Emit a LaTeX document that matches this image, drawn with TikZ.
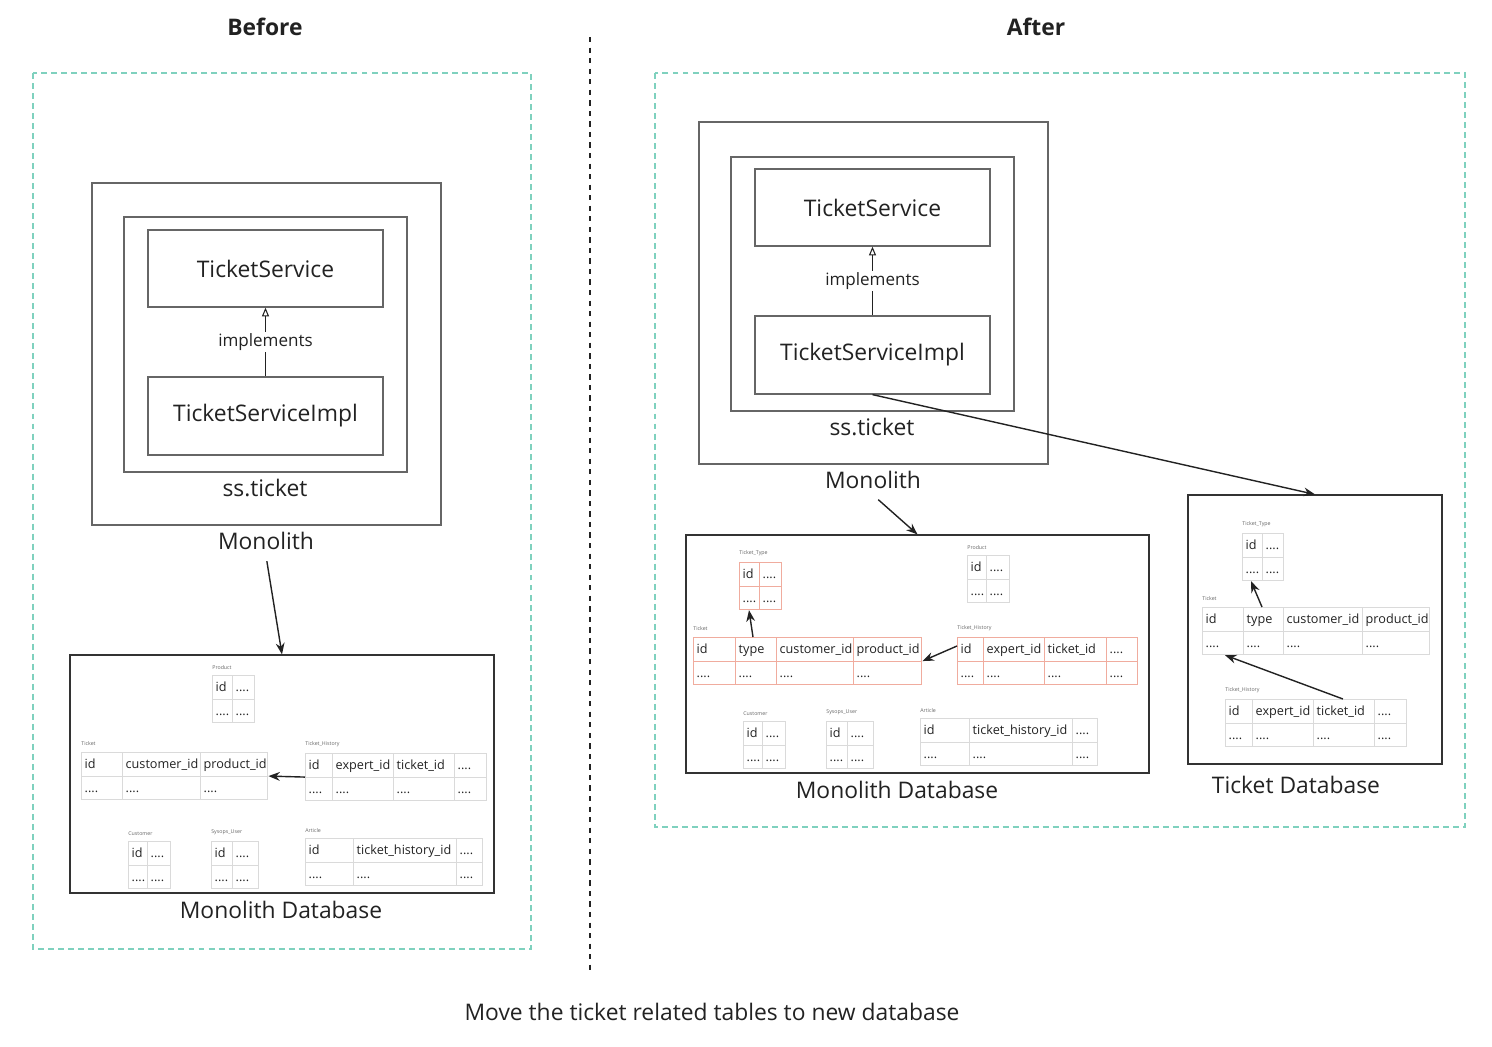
\documentclass[tikz,border=0pt]{standalone}
\usepackage{fontspec}
\setmainfont{Open Sans}
\usepackage{array}
\usepackage{colortbl}
\usetikzlibrary{arrows.meta,positioning}

\definecolor{frameteal}{HTML}{7FD1BE}
\definecolor{boxgray}{HTML}{666666}
\definecolor{rulegray}{HTML}{DADADA}
\definecolor{rulered}{HTML}{F0AC9E}
\definecolor{inkblack}{HTML}{222222}

\newlength{\pxu}\setlength{\pxu}{0.02cm}
\newcolumntype{P}[1]{p{\dimexpr#1\pxu-2\tabcolsep-0.4pt\relax}}
\setlength{\tabcolsep}{1.5pt}
\renewcommand{\arraystretch}{1.5}

\tikzset{
    box/.style={rectangle, draw=boxgray, line width=0.7pt, inner sep=0pt},
    dbbox/.style={rectangle, draw=black!80, line width=0.7pt, inner sep=0pt},
    title/.style={font=\fontsize{13}{15}\selectfont\bfseries, text=inkblack},
    lbl/.style={font=\fontsize{13}{15}\selectfont, text=inkblack},
    tbl/.style={inner sep=0pt, anchor=north west, text=inkblack, font=\fontsize{7.2}{8.6}\selectfont\arrayrulecolor{rulegray}},
    rtbl/.style={tbl, font=\fontsize{7.2}{8.6}\selectfont\arrayrulecolor{rulered}},
    tname/.style={inner sep=0pt, font=\fontsize{3}{3.5}\selectfont, text=black!60},
    link/.style={-{Stealth[length=6.5pt,width=5pt]}, line width=0.8pt, inkblack},
    realizes/.style={-{Triangle[open,length=5pt,width=4pt]}, line width=0.6pt, inkblack},
    frame/.style={draw=frameteal, dash pattern=on 3.4pt off 2.3pt, line width=0.7pt}
}

\begin{document}
\begin{tikzpicture}[x=0.02cm, y=-0.02cm]
    \useasboundingbox (0,0) rectangle (1492,1046);

    % headings and frames
    \node[title] (before) at (265,27)   {Before};
    \node[title] (after)  at (1036,27)  {After};
    \draw[frame] (33,73) rectangle (531,949);
    \draw[frame] (655,73) rectangle (1465,827);
    \draw[inkblack, line width=0.7pt, dash pattern=on 3pt off 3pt] (590,37) -- (590,975);

    % ---- before ----
    \node[box, minimum width=6.98cm, minimum height=6.84cm] (mono) at (266.5,354) {};
    \node[box, minimum width=5.66cm, minimum height=5.10cm] (pkg)  at (265.5,344.5) {};
    \node[box, lbl, minimum width=4.70cm, minimum height=1.54cm] (svc)  at (265.5,268.5) {TicketService};
    \node[box, lbl, minimum width=4.70cm, minimum height=1.56cm] (impl) at (265.5,416)   {TicketServiceImpl};
    \node[lbl] (pkgname)  at (265,488) {ss.ticket};
    \node[lbl] (mononame) at (266,541) {Monolith};
    \draw[realizes] (impl) -- node[fill=white, inner sep=1pt, font=\fontsize{9.7}{12}\selectfont, text=inkblack] {implements} (svc);

    \node[dbbox, minimum width=8.48cm, minimum height=4.76cm] (mdb) at (282,774) {};
    \node[lbl] (mdbname) at (281,910) {Monolith Database};
    \draw[link, shorten <=3pt] (mononame.south) -- (mdb.north);

    \node[tbl] (lprod) at (212,675) {\begin{tabular}{|P{20}|P{22}|} \hline id & .... \\ \hline .... & .... \\ \hline \end{tabular}};
    \node[tbl] (ltkt)  at (81,752)  {\begin{tabular}{|P{41}|P{78}|P{67}|} \hline id & customer\_id & product\_id \\ \hline .... & .... & .... \\ \hline \end{tabular}};
    \node[tbl] (lhist) at (305,753) {\begin{tabular}{|P{27}|P{61}|P{61}|P{32}|} \hline id & expert\_id & ticket\_id & .... \\ \hline .... & .... & .... & .... \\ \hline \end{tabular}};
    \node[tbl] (lcust) at (128,841) {\begin{tabular}{|P{19}|P{23}|} \hline id & .... \\ \hline .... & .... \\ \hline \end{tabular}};
    \node[tbl] (lsys)  at (211,841) {\begin{tabular}{|P{21}|P{26}|} \hline id & .... \\ \hline .... & .... \\ \hline \end{tabular}};
    \node[tbl] (lart)  at (305,838) {\begin{tabular}{|P{48}|P{103}|P{26}|} \hline id & ticket\_history\_id & .... \\ \hline .... & .... & .... \\ \hline \end{tabular}};

    \node[tname, above right=0.11cm and 0cm of lprod.north west] (lprodname) {Product};
    \node[tname, above right=0.12cm and 0cm of ltkt.north west]  (ltktname)  {Ticket};
    \node[tname, above right=0.11cm and 0cm of lhist.north west] (lhistname) {Ticket\_History};
    \node[tname, above right=0.11cm and 0cm of lcust.north west] (lcustname) {Customer};
    \node[tname, above right=0.11cm and 0cm of lsys.north west]  (lsysname)  {Sysops\_User};
    \node[tname, above right=0.11cm and 0cm of lart.north west]  (lartname)  {Article};

    \draw[link] (lhist.west) -- (ltkt.east);

    % ---- after ----
    \node[box, minimum width=6.98cm, minimum height=6.84cm] (rmono) at (873.5,293) {};
    \node[box, minimum width=5.66cm, minimum height=5.08cm] (rpkg)  at (872.5,284) {};
    \node[box, lbl, minimum width=4.70cm, minimum height=1.54cm] (rsvc)  at (872.5,207.5) {TicketService};
    \node[box, lbl, minimum width=4.70cm, minimum height=1.56cm] (rimpl) at (872.5,355)   {TicketServiceImpl};
    \node[lbl] (rpkgname)  at (872,427) {ss.ticket};
    \node[lbl] (rmononame) at (873,480) {Monolith};
    \draw[realizes] (rimpl) -- node[fill=white, inner sep=1pt, font=\fontsize{9.7}{12}\selectfont, text=inkblack] {implements} (rsvc);

    \node[dbbox, minimum width=9.26cm, minimum height=4.76cm] (rmdb) at (917.5,654) {};
    \node[lbl] (rmdbname) at (897,790) {Monolith Database};
    \node[dbbox, minimum width=5.08cm, minimum height=5.38cm] (tdb) at (1315,629.5) {};
    \node[lbl] (tdbname) at (1296,785) {Ticket Database};

    \draw[link, shorten <=4pt] (rmononame.south) -- (rmdb.north);
    \draw[link] (rimpl.south) -- (tdb.north);

    % monolith database after the move
    \node[rtbl] (rtype) at (739,562) {\begin{tabular}{|P{20}|P{22}|} \hline id & .... \\ \hline .... & .... \\ \hline \end{tabular}};
    \node[tbl]  (rprod) at (967,555) {\begin{tabular}{|P{19}|P{23}|} \hline id & .... \\ \hline .... & .... \\ \hline \end{tabular}};
    \node[rtbl] (rtkt)  at (693,637) {\begin{tabular}{|P{42}|P{41}|P{77}|P{68}|} \hline id & type & customer\_id & product\_id \\ \hline .... & .... & .... & .... \\ \hline \end{tabular}};
    \node[rtbl] (rhist) at (957,637) {\begin{tabular}{|P{26}|P{61}|P{62}|P{31}|} \hline id & expert\_id & ticket\_id & .... \\ \hline .... & .... & .... & .... \\ \hline \end{tabular}};
    \node[tbl]  (rcust) at (743,721) {\begin{tabular}{|P{19}|P{23}|} \hline id & .... \\ \hline .... & .... \\ \hline \end{tabular}};
    \node[tbl]  (rsys)  at (826,721) {\begin{tabular}{|P{21}|P{26}|} \hline id & .... \\ \hline .... & .... \\ \hline \end{tabular}};
    \node[tbl]  (rart)  at (920,718) {\begin{tabular}{|P{49}|P{103}|P{25}|} \hline id & ticket\_history\_id & .... \\ \hline .... & .... & .... \\ \hline \end{tabular}};

    \node[tname, above right=0.11cm and 0cm of rtype.north west] (rtypename) {Ticket\_Type};
    \node[tname, above right=0.11cm and 0cm of rprod.north west] (rprodname) {Product};
    \node[tname, above right=0.12cm and 0cm of rtkt.north west]  (rtktname)  {Ticket};
    \node[tname, above right=0.12cm and 0cm of rhist.north west] (rhistname) {Ticket\_History};
    \node[tname, above right=0.11cm and 0cm of rcust.north west] (rcustname) {Customer};
    \node[tname, above right=0.11cm and 0cm of rsys.north west]  (rsysname)  {Sysops\_User};
    \node[tname, above right=0.11cm and 0cm of rart.north west]  (rartname)  {Article};

    \draw[link] ([yshift=-0.18cm]rhist.north west) -- (rtkt.east);
    \draw[link] ([xshift=1.2cm]rtkt.north west) -- ([xshift=0.2cm]rtype.south west);

    % ticket database
    \node[tbl] (ttype) at (1242,533) {\begin{tabular}{|P{20}|P{21}|} \hline id & .... \\ \hline .... & .... \\ \hline \end{tabular}};
    \node[tbl] (ttkt)  at (1202,607) {\begin{tabular}{|P{41}|P{40}|P{79}|P{67}|} \hline id & type & customer\_id & product\_id \\ \hline .... & .... & .... & .... \\ \hline \end{tabular}};
    \node[tbl] (thist) at (1225,699) {\begin{tabular}{|P{27}|P{61}|P{61}|P{32}|} \hline id & expert\_id & ticket\_id & .... \\ \hline .... & .... & .... & .... \\ \hline \end{tabular}};

    \node[tname, above right=0.11cm and 0cm of ttype.north west] (ttypename) {Ticket\_Type};
    \node[tname, above right=0.12cm and 0cm of ttkt.north west]  (ttktname)  {Ticket};
    \node[tname, above right=0.12cm and 0cm of thist.north west] (thistname) {Ticket\_History};

    \draw[link] ([xshift=1.2cm]ttkt.north west) -- ([xshift=0.18cm]ttype.south west);
    \draw[link] ([xshift=2.36cm]thist.north west) -- ([xshift=0.46cm]ttkt.south west);

    \node[lbl] (caption) at (712,1012) {Move the ticket related tables to new database};
\end{tikzpicture}
\end{document}
